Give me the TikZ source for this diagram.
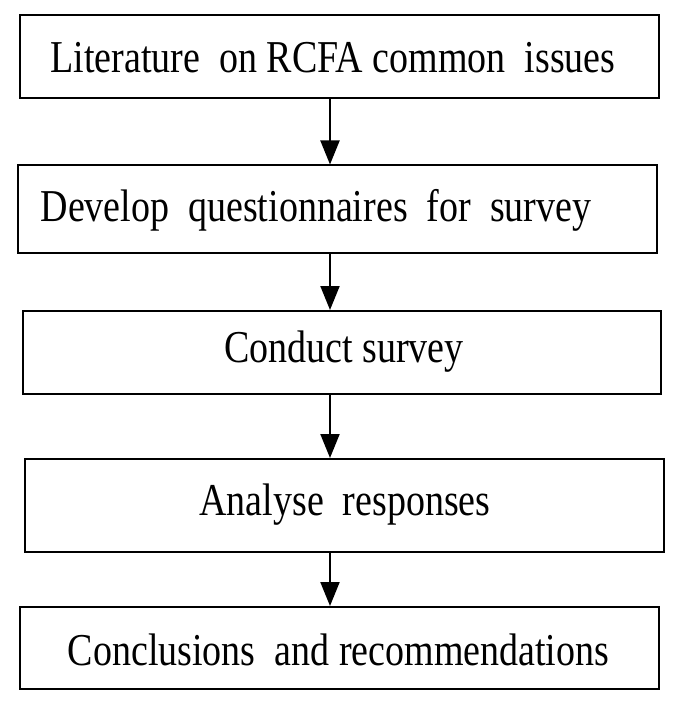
\documentclass[tikz,border=0pt]{standalone}
\usepackage{fontspec}
\setmainfont{Liberation Serif}
\usetikzlibrary{arrows.meta}
\tikzset{
  box/.style={draw=black, line width=2pt, rectangle, inner sep=0pt, fill=white},
  lbl/.style={inner sep=0pt, font=\fontsize{38}{40}\selectfont},
  arr/.style={draw=black, line width=2pt, -{Triangle[length=24pt,width=19pt]}}
}
\newcommand{\vs}[1]{\scalebox{1}[1.2]{#1}}
\begin{document}
\begin{tikzpicture}[x=1pt,y=-1pt]
\useasboundingbox (0,0) rectangle (682,719);
\fill[white] (0,0) rectangle (682,719);
\coordinate (ax) at (330,0);
\node[box, minimum width=639pt, minimum height=83pt] (b1) at (339,57) {};
\node[box, minimum width=639pt, minimum height=87pt] (b2) at (337,209) {};
\node[box, minimum width=638pt, minimum height=83pt] (b3) at (342,352.5) {};
\node[box, minimum width=639pt, minimum height=93pt] (b4) at (344.5,505.5) {};
\node[box, minimum width=639pt, minimum height=82pt] (b5) at (339,648) {};
\node[lbl] (t1) at (333,57.5) {\vs{Literature\ \ on RCFA common\ \ issues}};
\node[lbl] (t2) at (316,210) {\vs{Develop\ \ questionnaires\ \ for\ \ survey}};
\node[lbl] (t3) at (344,352) {\vs{Conduct survey}};
\node[lbl] (t4) at (345,505) {\vs{Analyse\ \ responses}};
\node[lbl] (t5) at (338.5,649.5) {\vs{Conclusions\ \ and recommendations}};
\draw[arr] (b1.south -| ax) -- (b2.north -| ax);
\draw[arr] (b2.south -| ax) -- (b3.north -| ax);
\draw[arr] (b3.south -| ax) -- (b4.north -| ax);
\draw[arr] (b4.south -| ax) -- (b5.north -| ax);
\end{tikzpicture}
\end{document}
